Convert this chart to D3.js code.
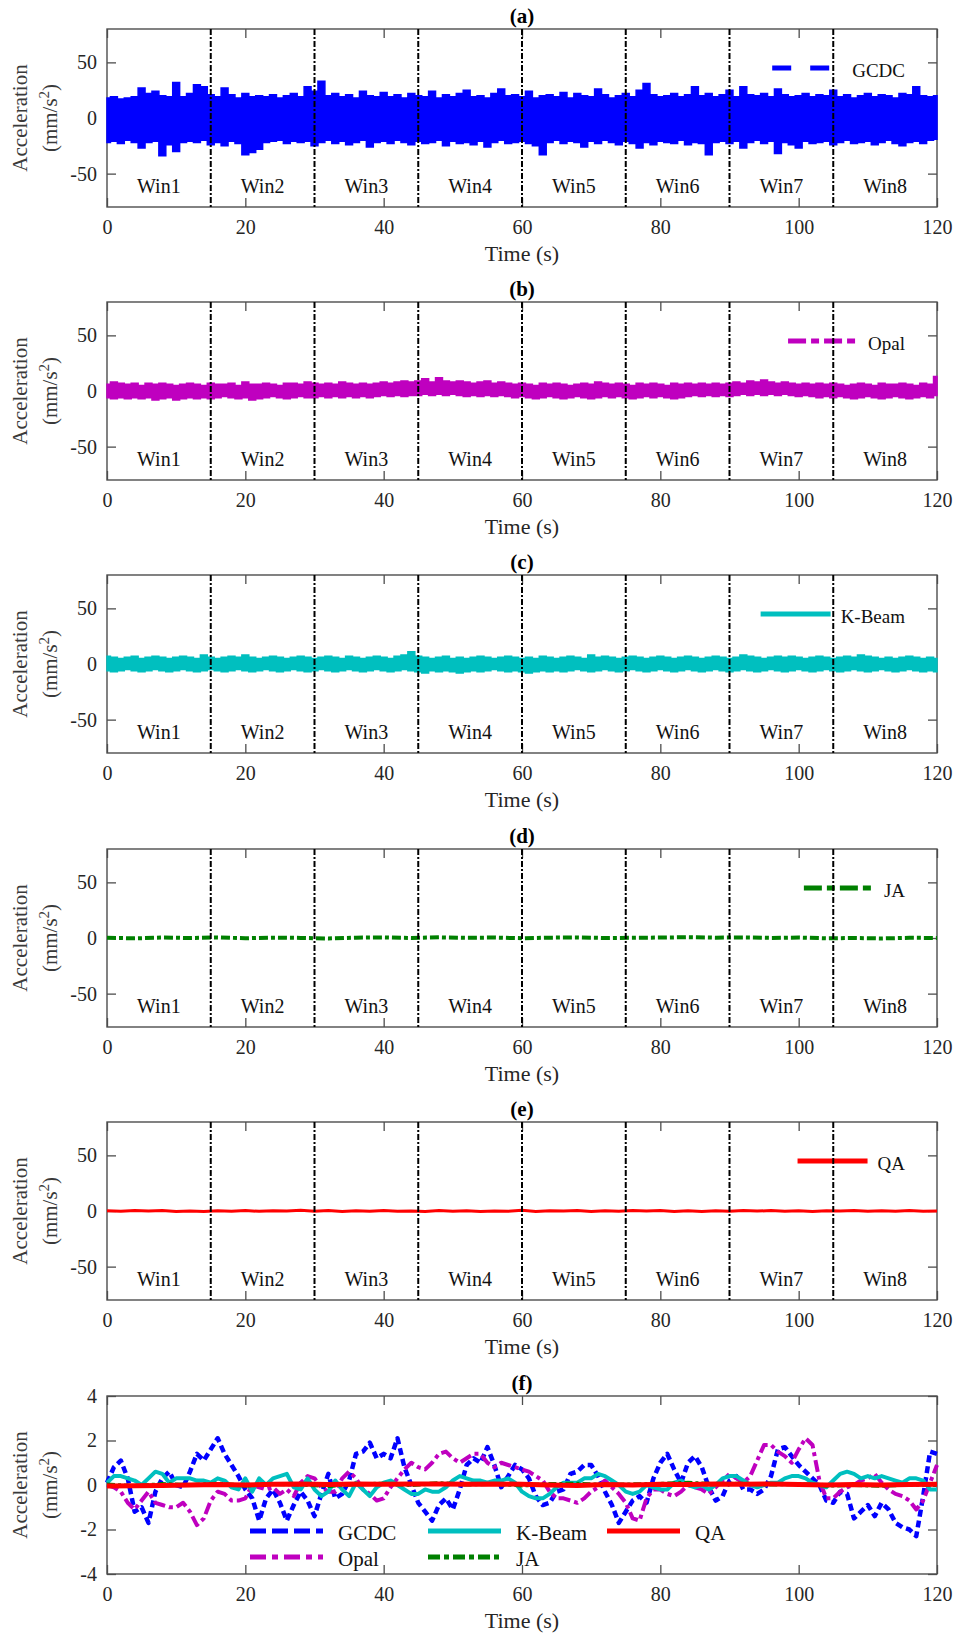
<!DOCTYPE html>
<html>
<head>
<meta charset="utf-8">
<script src="https://cdn.jsdelivr.net/npm/d3@7"></script>
<style>
  body { margin: 0; background: #fff; }
  svg { display: block; font-family: "Liberation Serif", "Times New Roman", serif; }
</style>
</head>
<body>
<svg id="chart" width="956" height="1633"></svg>
<script>
// ---- data ----
const panelTitles = ['(a)', '(b)', '(c)', '(d)', '(e)', '(f)'];
const xTicks = [0, 20, 40, 60, 80, 100, 120];
const yTicksBig = [-50, 0, 50];
const yTicksSmall = [-4, -2, 0, 2, 4];
const winEdges = [0, 15, 30, 45, 60, 75, 90, 105, 120];
const winLabels = ['Win1', 'Win2', 'Win3', 'Win4', 'Win5', 'Win6', 'Win7', 'Win8'];

// 1 s envelopes (max / min of the raw record in each second), mm/s^2
const gcdcUpper = [18,19,17,18,19,27,22,24,20,19,32,19,22,30,28,
  21,19,27,21,18,22,19,20,19,21,18,20,22,19,28,
  24,33,20,22,19,21,18,24,20,19,23,19,21,18,22,
  20,19,24,18,21,19,22,25,19,20,18,22,26,20,21,
  19,24,18,20,21,19,23,18,22,20,19,26,21,18,20,
  22,19,25,31,21,19,20,22,19,21,28,20,22,19,21,
  25,19,28,21,20,22,19,26,21,19,20,22,19,21,20,
  25,19,21,18,20,22,19,21,20,18,22,21,28,20,19,20];
const gcdcLower = [-22,-21,-23,-20,-22,-27,-22,-21,-34,-24,-30,-22,-21,-22,-20,
  -24,-22,-25,-21,-23,-33,-31,-28,-22,-21,-20,-23,-21,-22,-21,
  -25,-22,-20,-23,-21,-24,-22,-20,-26,-22,-21,-23,-20,-22,-24,
  -21,-23,-22,-20,-25,-21,-23,-22,-24,-21,-26,-22,-20,-23,-22,
  -21,-23,-25,-33,-22,-20,-23,-21,-22,-26,-21,-23,-20,-22,-24,
  -21,-23,-27,-22,-24,-21,-22,-23,-20,-24,-22,-23,-33,-22,-21,
  -23,-21,-27,-22,-20,-23,-21,-32,-22,-24,-27,-21,-23,-22,-21,
  -24,-22,-20,-23,-22,-21,-24,-22,-20,-23,-25,-22,-21,-23,-20,-19];
const opalUpper = [6,8,7,6,7,5,7,6,7,6,5,6,7,6,5,
  7,6,6,7,5,8,6,6,7,6,5,7,7,6,8,
  7,6,7,6,8,7,6,7,6,7,8,7,8,9,8,
  9,11,8,12,9,8,9,8,7,8,9,7,8,7,6,
  7,6,5,7,6,7,6,5,6,7,6,8,7,6,7,
  6,5,7,6,7,6,5,7,6,7,6,7,6,7,6,
  7,8,7,9,8,10,8,7,8,7,6,7,6,7,6,
  7,6,5,6,7,6,5,7,6,6,7,6,5,7,6,13];
const opalLower = [-6,-7,-6,-7,-6,-7,-6,-8,-7,-6,-8,-7,-6,-7,-6,
  -7,-6,-5,-6,-7,-6,-8,-7,-6,-5,-6,-7,-6,-5,-6,
  -6,-5,-6,-5,-6,-5,-6,-5,-6,-5,-4,-5,-4,-5,-4,
  -4,-3,-4,-3,-4,-3,-4,-5,-4,-5,-4,-5,-4,-5,-6,
  -5,-6,-7,-6,-5,-6,-7,-6,-5,-6,-7,-6,-5,-6,-5,
  -6,-7,-6,-5,-6,-5,-6,-7,-6,-5,-4,-5,-4,-5,-4,
  -5,-4,-3,-4,-3,-4,-3,-4,-3,-4,-5,-4,-5,-6,-5,
  -6,-5,-6,-7,-6,-5,-6,-7,-6,-5,-6,-7,-6,-5,-6,-4];
const kbeamUpper = [7,6,5,6,7,5,6,7,6,5,6,7,6,5,8,
  6,5,6,7,6,8,6,5,6,7,6,5,6,7,6,
  5,6,7,6,5,7,6,5,6,7,6,5,7,8,11,
  7,6,5,6,7,5,6,5,6,7,6,5,6,7,6,
  5,6,5,7,6,5,6,7,6,5,8,6,7,6,5,
  6,7,6,5,6,7,6,5,6,7,6,5,6,7,6,
  5,6,8,7,6,5,6,7,6,7,6,5,6,7,6,
  5,6,7,6,8,7,6,5,6,5,6,7,6,5,6,5];
const kbeamLower = [-6,-7,-6,-5,-6,-7,-6,-5,-6,-7,-6,-5,-6,-7,-6,
  -5,-6,-7,-6,-5,-6,-7,-6,-5,-6,-7,-6,-5,-6,-7,
  -6,-5,-6,-7,-6,-5,-6,-7,-6,-5,-6,-7,-6,-5,-6,
  -7,-8,-6,-7,-6,-7,-8,-7,-6,-7,-6,-5,-6,-7,-6,
  -7,-8,-7,-6,-7,-6,-7,-6,-5,-6,-7,-6,-5,-6,-7,
  -6,-5,-6,-7,-6,-5,-6,-7,-6,-5,-6,-7,-6,-5,-6,
  -7,-6,-5,-6,-7,-6,-5,-6,-7,-6,-5,-6,-7,-6,-5,
  -6,-7,-6,-5,-6,-7,-6,-5,-6,-7,-6,-5,-6,-7,-6,-7];
// raw JA and QA records (every 4 s and 2 s)
const jaRaw = [0.2,-0.3,0.4,0.0,0.5,-0.2,0.3,0.1,-0.4,0.3,0.5,0.0,0.6,0.2,0.4,-0.2,
  0.3,0.5,0.0,0.2,0.4,0.7,0.3,0.5,0.1,0.4,-0.3,0.0,-0.4,0.2,0.0];
const qaRaw = [0.2,-0.3,0.4,-0.1,0.5,-0.4,0.1,-0.5,0.3,-0.2,0.5,-0.3,0.2,-0.1,0.6,-0.3,
  0.4,-0.5,0.2,-0.2,0.4,-0.3,0.1,-0.4,0.5,-0.2,0.3,-0.4,0.1,-0.3,0.6,-0.4,
  0.2,-0.1,0.4,-0.5,0.3,-0.2,0.4,-0.1,0.5,-0.4,0.2,-0.4,0.3,-0.2,0.5,-0.1,
  0.4,-0.3,0.2,-0.4,0.3,-0.1,0.4,-0.3,0.2,-0.3,0.4,-0.2,0.1];

// (f) smoothed records, 1 s
const gcdcSmooth = [0.1,0.8,1.1,0.3,-1.2,-1.0,-1.7,-0.3,0.3,0.6,0.0,-0.1,0.6,1.4,1.1,
  1.6,2.1,1.4,0.9,0.4,-0.2,-0.6,-1.6,-0.6,-0.2,-0.8,-1.6,-0.9,-0.3,-0.7,
  -1.4,-0.4,0.5,-0.6,-0.4,0.2,1.4,1.5,1.9,1.2,1.4,1.2,2.1,0.8,0.0,
  -0.8,-1.2,-1.6,-0.9,-0.6,-1.1,-0.2,0.9,1.2,1.0,1.7,0.9,-0.1,0.4,0.9,
  0.7,0.3,-0.5,-0.9,-0.8,-0.3,-0.2,0.5,0.6,0.9,0.9,0.4,-0.3,-0.9,-1.7,
  -1.2,-0.7,-0.5,-0.8,0.3,1.0,1.4,0.7,0.1,1.0,1.3,0.8,-0.1,-0.7,-0.5,
  0.2,0.4,-0.2,-0.2,-0.4,-0.2,0.4,1.6,1.7,1.3,0.9,0.6,0.3,0.0,-0.7,
  -0.8,-0.3,-0.4,-1.5,-1.2,-0.9,-1.4,-0.8,-1.1,-1.7,-1.9,-2.0,-2.3,-0.5,1.5,1.4];
const opalSmooth = [0.0,-0.1,-0.3,-0.8,-1.1,-0.7,-0.3,-0.8,-0.9,-1.0,-1.0,-0.8,-1.2,-1.8,-1.5,
  -0.7,-0.3,-0.4,-0.7,-0.7,-0.6,0.0,-0.1,-0.2,-0.1,-0.4,-0.2,-0.5,0.1,0.4,
  0.3,-0.1,-0.3,-0.3,0.3,0.6,0.3,-0.2,-0.4,-0.7,-0.6,-0.1,0.3,0.7,1.0,
  0.8,0.7,1.0,1.4,1.5,1.2,1.0,1.2,1.4,1.4,1.0,0.8,1.0,0.9,0.8,
  0.7,0.6,0.4,0.2,-0.3,-0.6,-0.6,-0.7,-0.8,-0.6,-0.3,-0.1,0.2,-0.1,-0.4,
  -0.8,-1.5,-1.6,-0.6,-0.2,-0.2,-0.4,-0.5,-0.3,0.0,-0.1,-0.2,-0.4,-0.1,0.2,
  0.5,0.3,0.1,0.4,1.1,1.8,1.8,1.5,1.3,1.0,1.6,2.1,1.8,0.2,-0.6,
  -0.6,-0.3,-0.1,0.0,0.2,0.3,0.5,0.1,-0.2,-0.4,-0.5,-0.7,-1.1,-0.7,0.1,0.9];
const kbeamSmooth = [0.1,0.4,0.4,0.3,0.2,0.0,0.3,0.6,0.5,0.1,0.3,0.3,0.3,0.2,0.2,
  0.1,0.3,0.2,-0.1,-0.2,0.3,-0.3,0.3,0.0,0.3,0.4,0.5,-0.1,-0.2,0.3,
  -0.2,-0.5,-0.3,0.2,-0.2,-0.5,0.1,-0.2,-0.5,-0.1,0.1,0.2,0.0,-0.2,-0.4,
  -0.4,-0.2,-0.3,-0.3,-0.1,0.2,0.4,0.3,0.2,0.2,0.1,0.2,0.2,0.3,0.1,
  -0.3,-0.5,-0.6,-0.6,-0.4,-0.1,0.1,0.1,0.1,0.3,0.3,0.5,0.4,0.2,0.0,
  -0.3,-0.4,-0.3,0.0,-0.1,-0.2,-0.2,0.1,0.2,0.0,-0.1,0.0,-0.2,0.0,0.3,
  0.4,0.4,0.2,0.0,-0.1,0.0,0.1,0.1,0.3,0.4,0.4,0.3,0.1,0.0,-0.1,
  0.2,0.5,0.6,0.5,0.3,0.4,0.3,0.4,0.3,0.2,0.1,0.3,0.3,0.2,-0.2,-0.2];
// every 4 s
const jaSmooth = [0.02,-0.05,0.04,0.0,0.06,-0.03,0.05,0.02,-0.04,0.03,0.06,0.0,0.08,0.02,0.05,-0.02,
  0.04,0.06,0.0,0.03,0.05,0.1,0.04,0.06,0.02,0.05,-0.03,0.0,-0.04,0.02,0.0];
const qaSmooth = [-0.05,-0.03,-0.02,0.0,0.02,0.0,0.03,0.05,0.02,0.04,0.03,0.05,0.04,0.03,0.05,0.03,
  0.0,-0.02,0.02,0.0,0.03,0.02,0.04,0.03,0.05,0.02,0.0,0.02,0.0,0.02,0.03];

// ---- layout ----
const svg = d3.select('#chart');
const xL = 107, xR = 937, ph = 178;
const tops = [29, 302, 575, 849, 1122, 1396];
const txtCol = '#262626', axCol = '#4d4d4d';

const x = d3.scaleLinear().domain([0, 120]).range([xL, xR]);
const sec = (arr, step) => arr.map((v, i) => ({ t: i * step, v }));
const band = (up, lo) => up.map((u, i) => ({ t: i, u, l: lo[i] }));
const fmt = d => String(d);

function frame(top, y, yTicks) {
  const bottom = top + ph;
  const g = svg.append('g');

  const fix = sel => {
    sel.select('.domain').remove();
    sel.selectAll('line').attr('stroke', axCol).attr('stroke-width', 1.3);
    sel.attr('font-family', null).attr('font-size', 20);
    sel.selectAll('text').attr('fill', txtCol);
  };

  g.append('g').attr('transform', `translate(0,${bottom})`)
    .call(d3.axisBottom(x).tickValues(xTicks).tickSize(-9).tickFormat(fmt))
    .call(fix)
    .call(s => s.selectAll('text').attr('y', 27).attr('dy', 0));
  g.append('g').attr('transform', `translate(0,${top})`)
    .call(d3.axisTop(x).tickValues(xTicks).tickSize(-9).tickFormat(''))
    .call(fix);
  g.append('g').attr('transform', `translate(${xL},0)`)
    .call(d3.axisLeft(y).tickValues(yTicks).tickSize(-9).tickPadding(10).tickFormat(fmt))
    .call(fix);
  g.append('g').attr('transform', `translate(${xR},0)`)
    .call(d3.axisRight(y).tickValues(yTicks).tickSize(-9).tickFormat(''))
    .call(fix);

  g.append('rect')
    .attr('x', xL).attr('y', top).attr('width', xR - xL).attr('height', ph)
    .attr('fill', 'none').attr('stroke', axCol).attr('stroke-width', 1.4);

  // y label
  const cy = top + ph / 2;
  const yl = g.append('g').attr('fill', '#3a3a3a').attr('font-size', 21).attr('text-anchor', 'middle');
  yl.append('text').attr('transform', `translate(27,${cy}) rotate(-90)`).text('Acceleration');
  const t2 = yl.append('text').attr('transform', `translate(57,${cy}) rotate(-90)`);
  t2.append('tspan').text('(mm/s');
  t2.append('tspan').attr('dy', -8).attr('font-size', 15).text('2');
  t2.append('tspan').attr('dy', 8).text(')');

  // x label
  g.append('text').attr('x', x(60)).attr('y', bottom + 54)
    .attr('text-anchor', 'middle').attr('font-size', 22).attr('fill', txtCol).text('Time (s)');
}

function title(top, s) {
  svg.append('text').attr('x', x(60)).attr('y', top - 6)
    .attr('text-anchor', 'middle').attr('font-size', 21).attr('font-weight', 'bold')
    .attr('fill', '#000').text(s);
}

function windows(top) {
  const g = svg.append('g');
  g.selectAll('line').data(winEdges.slice(1, -1)).enter().append('line')
    .attr('x1', d => x(d)).attr('x2', d => x(d))
    .attr('y1', top).attr('y2', top + ph)
    .attr('stroke', '#000').attr('stroke-width', 2).attr('stroke-dasharray', '6,2,2,2');
  g.selectAll('text').data(winLabels).enter().append('text')
    .attr('x', (d, i) => x((winEdges[i] + winEdges[i + 1]) / 2))
    .attr('y', top + ph - 14)
    .attr('text-anchor', 'middle').attr('font-size', 20).attr('fill', '#111')
    .text(d => d);
}

function legendItem(top, name, color, width, dash) {
  const ly = top + 39;
  const g = svg.append('g');
  const ln = g.append('line');
  const txt = g.append('text').attr('y', ly + 2).attr('dy', '0.35em')
    .attr('font-size', 19).attr('fill', '#111').text(name);
  const w = txt.node().getComputedTextLength();
  const tx = 905 - w;
  txt.attr('x', tx);
  ln.attr('x1', tx - 80).attr('x2', tx - 10).attr('y1', ly).attr('y2', ly)
    .attr('stroke', color).attr('stroke-width', width)
    .attr('stroke-dasharray', dash);
}

const bandPanels = [
  { name: 'GCDC', color: '#0000ff', up: gcdcUpper, lo: gcdcLower, dash: '19,19', lw: 5 },
  { name: 'Opal', color: '#bf00bf', up: opalUpper, lo: opalLower, dash: '18,5,8,5', lw: 5 },
  { name: 'K-Beam', color: '#00bfbf', up: kbeamUpper, lo: kbeamLower, dash: null, lw: 5 }
];

bandPanels.forEach((p, k) => {
  const top = tops[k];
  const y = d3.scaleLinear().domain([-80, 80]).range([top + ph, top]);
  frame(top, y, yTicksBig);
  title(top, panelTitles[k]);
  const area = d3.area().x(d => x(d.t)).y0(d => y(d.l)).y1(d => y(d.u)).curve(d3.curveStep);
  svg.append('path').datum(band(p.up, p.lo))
    .attr('d', area).attr('fill', p.color).attr('stroke', p.color).attr('stroke-width', 1.5);
  legendItem(top, p.name, p.color, p.lw, p.dash);
  windows(top);
});

// (d) JA
{
  const top = tops[3];
  const y = d3.scaleLinear().domain([-80, 80]).range([top + ph, top]);
  frame(top, y, yTicksBig);
  title(top, panelTitles[3]);
  svg.append('path').datum(sec(jaRaw, 4))
    .attr('d', d3.line().x(d => x(d.t)).y(d => y(d.v)))
    .attr('fill', 'none').attr('stroke', '#008000').attr('stroke-width', 4)
    .attr('stroke-dasharray', '9,3,4,3');
  legendItem(top, 'JA', '#008000', 5, '18,5,8,5');
  windows(top);
}

// (e) QA
{
  const top = tops[4];
  const y = d3.scaleLinear().domain([-80, 80]).range([top + ph, top]);
  frame(top, y, yTicksBig);
  title(top, panelTitles[4]);
  svg.append('path').datum(sec(qaRaw, 2))
    .attr('d', d3.line().x(d => x(d.t)).y(d => y(d.v)))
    .attr('fill', 'none').attr('stroke', '#ff0000').attr('stroke-width', 3);
  legendItem(top, 'QA', '#ff0000', 5, null);
  windows(top);
}

// (f) all sensors, smoothed
{
  const top = tops[5];
  const y = d3.scaleLinear().domain([-4, 4]).range([top + ph, top]);
  frame(top, y, yTicksSmall);
  title(top, panelTitles[5]);
  const line = d3.line().x(d => x(d.t)).y(d => y(d.v));
  const series = [
    { name: 'GCDC', color: '#0000ff', data: sec(gcdcSmooth, 1), w: 4.5, dash: '7,4' },
    { name: 'Opal', color: '#bf00bf', data: sec(opalSmooth, 1), w: 4, dash: '12,4,4,4' },
    { name: 'K-Beam', color: '#00bfbf', data: sec(kbeamSmooth, 1), w: 4, dash: null },
    { name: 'JA', color: '#008000', data: sec(jaSmooth, 4), w: 4, dash: '8,3,3,3' },
    { name: 'QA', color: '#ff0000', data: sec(qaSmooth, 4), w: 5, dash: null }
  ];
  series.forEach(s => {
    svg.append('path').datum(s.data).attr('d', line)
      .attr('fill', 'none').attr('stroke', s.color).attr('stroke-width', s.w)
      .attr('stroke-linejoin', 'round').attr('stroke-dasharray', s.dash);
  });

  // legend: 3 columns, 2 rows
  const legPos = [
    { s: 0, x: 250, y: 1531 }, { s: 2, x: 428, y: 1531 }, { s: 4, x: 607, y: 1531 },
    { s: 1, x: 250, y: 1557 }, { s: 3, x: 428, y: 1557 }
  ];
  const legDash = ['16,6', '16,6,6,6', null, '12,4,5,4', null];
  legPos.forEach(p => {
    const s = series[p.s];
    svg.append('line').attr('x1', p.x).attr('x2', p.x + 73).attr('y1', p.y).attr('y2', p.y)
      .attr('stroke', s.color).attr('stroke-width', 5).attr('stroke-dasharray', legDash[p.s]);
    svg.append('text').attr('x', p.x + 88).attr('y', p.y + 2).attr('dy', '0.35em')
      .attr('font-size', 21).attr('fill', '#111').text(s.name);
  });
}
</script>
</body>
</html>
